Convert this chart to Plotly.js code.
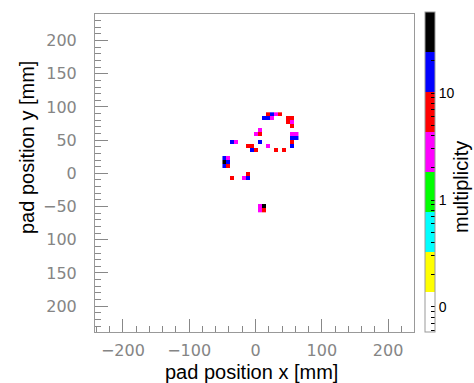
<!DOCTYPE html>
<html>
<head>
<meta charset="utf-8">
<script src="https://cdn.plot.ly/plotly-3.0.1.min.js"></script>
<style>html,body{margin:0;padding:0;background:#fff;}#chart{width:474px;height:383px;}</style>
</head>
<body>
<div id="chart"></div>
<script>
// Pad centres (mm) and multiplicity
const padX = [19.2, 25.2, 31.2, 37.2,
  13.2, 19.2, 25.2,
  49.2, 55.2, 49.2, 55.2, 55.2,
  7.2, 1.2, 7.2,
  55.2, 61.2, 55.2, 61.2, 55.2, 55.2,
  -34.8, -28.8, 7.2,
  -10.8, -4.8, -4.8, 1.2, 19.2,
  31.2, 43.2,
  -46.8, -40.8, -46.8, -40.8, -46.8, -40.8,
  -34.8, -10.8, -16.8, -10.8,
  7.2, 7.2, 13.2, 13.2];
const padY = [88.9, 88.9, 88.9, 88.9,
  82.9, 82.9, 82.9,
  82.9, 82.9, 76.9, 76.9, 70.9,
  64.9, 58.9, 58.9,
  58.9, 58.9, 52.9, 52.9, 46.9, 40.9,
  46.9, 46.9, 46.9,
  40.9, 40.9, 34.9, 34.9, 40.9,
  34.9, 34.9,
  22.9, 22.9, 16.9, 16.9, 10.9, 10.9,
  -7.1, -1.1, -7.1, -7.1,
  -49.1, -55.1, -49.1, -55.1];
const multiplicity = [7, 14, 3, 6,
  16, 13, 3,
  8, 6, 7, 3, 6,
  3, 2, 7,
  4, 3, 15, 12, 8, 14,
  13, 3, 16,
  6, 7, 15, 6, 3,
  6, 7,
  13, 3, 32, 14, 15, 7,
  6, 8, 3, 13,
  4, 3, 30, 8];

const xTicks = [-200, -100, 0, 100, 200];
const yTickVals = [200, 150, 100, 50, 0, -50, -100, -150, -200];
const yTickText = ["200", "150", "100", "50", "0", "\u221250", "100", "150", "200"];
const zTickVals = [0.1, 1, 10];
const zTickText = ["0", "1", "10"];
const zMinorVals = [0.06, 0.07, 0.08, 0.09, 0.2, 0.3, 0.4, 0.5, 0.6, 0.7, 0.8, 0.9,
  2, 3, 4, 5, 6, 7, 8, 9, 20, 30, 40, 50];
const zRange = [0.0583, 57.2];
const palette = ["#ffffff", "#ffff00", "#00ffff", "#00ff00", "#ff00ff", "#ff0000", "#0000ff", "#000000"];

// build a regular grid of pads from the cell list
const dx = 6, dy = 6;
const x0 = Math.min(...padX), y0 = Math.min(...padY);
const nx = Math.round((Math.max(...padX) - x0) / dx) + 1;
const ny = Math.round((Math.max(...padY) - y0) / dy) + 1;
const z = [];
for (let j = 0; j < ny; j++) { z.push(new Array(nx).fill(null)); }
for (let k = 0; k < padX.length; k++) {
  const i = Math.round((padX[k] - x0) / dx);
  const j = Math.round((padY[k] - y0) / dy);
  z[j][i] = Math.log10(multiplicity[k]);
}
const cs = [];
palette.forEach((c, k) => { cs.push([k / palette.length, c]); cs.push([(k + 1) / palette.length, c]); });

const allTickVals = zTickVals.concat(zMinorVals).map(v => Math.log10(v));
const allTickText = zTickText.concat(zMinorVals.map(() => ""));

const trace = {
  type: "heatmap",
  z: z, x0: x0, dx: dx, y0: y0, dy: dy,
  zmin: Math.log10(zRange[0]), zmax: Math.log10(zRange[1]),
  colorscale: cs, zsmooth: false, hoverongaps: false,
  colorbar: {
    thickness: 10, thicknessmode: "pixels",
    len: 320, lenmode: "pixels",
    x: 1.0345, xanchor: "left", xpad: 0,
    y: 0.503, yanchor: "middle", ypad: 0,
    outlinewidth: 1, outlinecolor: "#999",
    tickmode: "array", tickvals: allTickVals, ticktext: allTickText,
    ticks: "inside", ticklen: 4, tickcolor: "#000", tickwidth: 1,
    tickfont: {family: "Liberation Sans, Arial, sans-serif", size: 14, color: "#000"}
  }
};

const tickFont = {family: "DejaVu Sans, sans-serif", size: 16, color: "#858585"};
const layout = {
  width: 474, height: 383,
  margin: {l: 95, r: 60, t: 14, b: 51},
  paper_bgcolor: "#fff", plot_bgcolor: "#fff",
  showlegend: false,
  xaxis: {
    range: [-242, 239], tickmode: "array", tickvals: xTicks,
    ticks: "inside", ticklen: 13, tickcolor: "#888", tickwidth: 1,
    minor: {dtick: 20, tick0: 0, ticks: "inside", ticklen: 6, tickcolor: "#888", tickwidth: 1},
    showline: true, linecolor: "#999", linewidth: 1, mirror: true,
    showgrid: false, zeroline: false, tickfont: tickFont, ticklabelstandoff: 4
  },
  yaxis: {
    range: [-239, 240], tickmode: "array", tickvals: yTickVals, ticktext: yTickText,
    ticks: "inside", ticklen: 13, tickcolor: "#888", tickwidth: 1,
    minor: {dtick: 10, tick0: 0, ticks: "inside", ticklen: 6, tickcolor: "#888", tickwidth: 1},
    showline: true, linecolor: "#999", linewidth: 1, mirror: true,
    showgrid: false, zeroline: false, tickfont: tickFont, ticklabelstandoff: 14
  },
  annotations: [
    {text: "pad position x [mm]", xref: "paper", yref: "paper", x: (251 - 95) / 319, y: -(372 - 332) / 318,
     xanchor: "center", yanchor: "middle", showarrow: false,
     font: {family: "Liberation Sans, Arial, sans-serif", size: 20, color: "#000"}},
    {text: "pad position y [mm]", xref: "paper", yref: "paper", x: -(95 - 27) / 319, y: (332 - 148) / 318,
     xanchor: "center", yanchor: "middle", showarrow: false, textangle: -90,
     font: {family: "Liberation Sans, Arial, sans-serif", size: 20, color: "#000"}},
    {text: "multiplicity", xref: "paper", yref: "paper", x: (461 - 95) / 319, y: (332 - 187) / 318,
     xanchor: "center", yanchor: "middle", showarrow: false, textangle: -90,
     font: {family: "Liberation Sans, Arial, sans-serif", size: 20, color: "#000"}}
  ]
};

Plotly.newPlot("chart", [trace], layout, {displayModeBar: false, staticPlot: true});
</script>
</body>
</html>
